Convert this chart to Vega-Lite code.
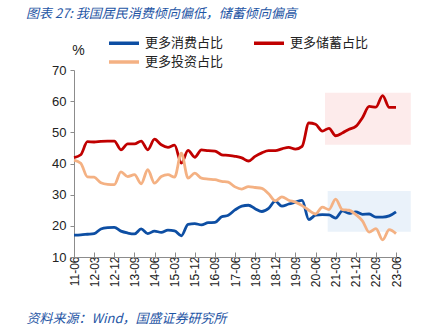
{
  "$schema": "https://vega.github.io/schema/vega-lite/v6.json",
  "width": 322,
  "height": 187,
  "autosize": {"type": "none"},
  "padding": {"left": 74, "top": 70, "right": 52, "bottom": 74},
  "background": "white",
  "title": {
    "text": "图表 27: 我国居民消费倾向偏低，储蓄倾向偏高",
    "anchor": "start",
    "frame": "group",
    "dx": -48,
    "offset": 13,
    "font": "Noto Sans CJK SC",
    "fontSize": 13,
    "fontStyle": "italic",
    "fontWeight": "normal",
    "color": "#1F56A5"
  },
  "config": {
    "view": {"stroke": null},
    "font": "Liberation Sans",
    "axis": {"grid": false, "domainColor": "#8C8C8C", "tickColor": "#8C8C8C", "labelColor": "#222222", "labelFont": "Liberation Sans"},
    "axisY": {"labelOverlap": false, "tickCount": 7}
  },
  "datasets": {
    "survey": [
      {"date": "2011-06", "更多消费占比": 17.0, "更多储蓄占比": 41.9, "更多投资占比": 41.1},
      {"date": "2011-09", "更多消费占比": 17.1, "更多储蓄占比": 42.8, "更多投资占比": 40.1},
      {"date": "2011-12", "更多消费占比": 17.3, "更多储蓄占比": 47.0, "更多投资占比": 35.7},
      {"date": "2012-03", "更多消费占比": 17.5, "更多储蓄占比": 46.9, "更多投资占比": 35.6},
      {"date": "2012-06", "更多消费占比": 19.0, "更多储蓄占比": 47.1, "更多投资占比": 33.8},
      {"date": "2012-09", "更多消费占比": 19.4, "更多储蓄占比": 47.2, "更多投资占比": 33.3},
      {"date": "2012-12", "更多消费占比": 19.5, "更多储蓄占比": 47.2, "更多投资占比": 33.2},
      {"date": "2013-03", "更多消费占比": 18.3, "更多储蓄占比": 44.4, "更多投资占比": 37.3},
      {"date": "2013-06", "更多消费占比": 17.7, "更多储蓄占比": 46.3, "更多投资占比": 35.8},
      {"date": "2013-09", "更多消费占比": 17.4, "更多储蓄占比": 46.3, "更多投资占比": 36.4},
      {"date": "2013-12", "更多消费占比": 19.0, "更多储蓄占比": 47.2, "更多投资占比": 33.5},
      {"date": "2014-03", "更多消费占比": 17.5, "更多储蓄占比": 44.4, "更多投资占比": 38.0},
      {"date": "2014-06", "更多消费占比": 18.3, "更多储蓄占比": 47.8, "更多投资占比": 33.7},
      {"date": "2014-09", "更多消费占比": 17.9, "更多储蓄占比": 46.0, "更多投资占比": 35.8},
      {"date": "2014-12", "更多消费占比": 18.6, "更多储蓄占比": 45.2, "更多投资占比": 36.4},
      {"date": "2015-03", "更多消费占比": 18.4, "更多储蓄占比": 45.9, "更多投资占比": 35.6},
      {"date": "2015-06", "更多消费占比": 16.8, "更多储蓄占比": 40.1, "更多投资占比": 43.3},
      {"date": "2015-09", "更多消费占比": 20.5, "更多储蓄占比": 44.2, "更多投资占比": 35.3},
      {"date": "2015-12", "更多消费占比": 20.7, "更多储蓄占比": 42.0, "更多投资占比": 36.9},
      {"date": "2016-03", "更多消费占比": 20.3, "更多储蓄占比": 44.4, "更多投资占比": 35.3},
      {"date": "2016-06", "更多消费占比": 21.0, "更多储蓄占比": 44.1, "更多投资占比": 35.0},
      {"date": "2016-09", "更多消费占比": 21.1, "更多储蓄占比": 44.0, "更多投资占比": 34.8},
      {"date": "2016-12", "更多消费占比": 22.9, "更多储蓄占比": 42.8, "更多投资占比": 34.3},
      {"date": "2017-03", "更多消费占比": 23.4, "更多储蓄占比": 42.6, "更多投资占比": 34.0},
      {"date": "2017-06", "更多消费占比": 25.1, "更多储蓄占比": 42.3, "更多投资占比": 32.5},
      {"date": "2017-09", "更多消费占比": 26.3, "更多储蓄占比": 41.8, "更多投资占比": 31.8},
      {"date": "2017-12", "更多消费占比": 26.6, "更多储蓄占比": 40.8, "更多投资占比": 32.6},
      {"date": "2018-03", "更多消费占比": 25.5, "更多储蓄占比": 42.3, "更多投资占比": 32.3},
      {"date": "2018-06", "更多消费占比": 24.6, "更多储蓄占比": 43.4, "更多投资占比": 32.0},
      {"date": "2018-09", "更多消费占比": 25.6, "更多储蓄占比": 44.1, "更多投资占比": 30.3},
      {"date": "2018-12", "更多消费占比": 27.9, "更多储蓄占比": 44.1, "更多投资占比": 28.0},
      {"date": "2019-03", "更多消费占比": 26.3, "更多储蓄占比": 44.7, "更多投资占比": 29.3},
      {"date": "2019-06", "更多消费占比": 27.0, "更多储蓄占比": 45.2, "更多投资占比": 28.2},
      {"date": "2019-09", "更多消费占比": 27.6, "更多储蓄占比": 44.6, "更多投资占比": 27.6},
      {"date": "2019-12", "更多消费占比": 28.2, "更多储蓄占比": 45.5, "更多投资占比": 26.5},
      {"date": "2020-03", "更多消费占比": 22.0, "更多储蓄占比": 53.0, "更多投资占比": 25.0},
      {"date": "2020-06", "更多消费占比": 23.4, "更多储蓄占比": 52.6, "更多投资占比": 23.8},
      {"date": "2020-09", "更多消费占比": 23.6, "更多储蓄占比": 50.4, "更多投资占比": 26.0},
      {"date": "2020-12", "更多消费占比": 23.5, "更多储蓄占比": 51.3, "更多投资占比": 25.2},
      {"date": "2021-03", "更多消费占比": 22.5, "更多储蓄占比": 48.9, "更多投资占比": 28.6},
      {"date": "2021-06", "更多消费占比": 24.8, "更多储蓄占比": 49.8, "更多投资占比": 25.2},
      {"date": "2021-09", "更多消费占比": 24.0, "更多储蓄占比": 51.0, "更多投资占比": 25.0},
      {"date": "2021-12", "更多消费占比": 24.5, "更多储蓄占比": 51.9, "更多投资占比": 23.6},
      {"date": "2022-03", "更多消费占比": 23.7, "更多储蓄占比": 54.7, "更多投资占比": 21.6},
      {"date": "2022-06", "更多消费占比": 23.8, "更多储蓄占比": 58.3, "更多投资占比": 18.0},
      {"date": "2022-09", "更多消费占比": 22.8, "更多储蓄占比": 58.1, "更多投资占比": 19.1},
      {"date": "2022-12", "更多消费占比": 22.8, "更多储蓄占比": 61.8, "更多投资占比": 15.5},
      {"date": "2023-03", "更多消费占比": 23.2, "更多储蓄占比": 58.0, "更多投资占比": 18.8},
      {"date": "2023-06", "更多消费占比": 24.5, "更多储蓄占比": 58.0, "更多投资占比": 17.5}
    ],
    "zones": [
      {"zone": "储蓄", "start": "2020-10-07", "end": "2023-12-19", "low": 46.0, "high": 62.7},
      {"zone": "消费", "start": "2020-11-13", "end": "2023-12-19", "low": 18.1, "high": 31.2}
    ]
  },
  "encoding": {
    "x": {
      "field": "date",
      "type": "temporal",
      "scale": {"type": "utc", "nice": false, "domain": [{"year": 2011, "month": 6, "date": 1, "utc": true}, {"year": 2023, "month": 6, "date": 1, "utc": true}]},
      "axis": {
        "title": "资料来源：Wind，国盛证券研究所",
        "titleFont": "Noto Sans CJK SC",
        "titleFontSize": 13,
        "titleFontStyle": "italic",
        "titleFontWeight": "normal",
        "titleColor": "#1F56A5",
        "titleAnchor": "start",
        "titleAlign": "left",
        "titleBaseline": "middle",
        "titleX": -48,
        "titleY": 61,
        "format": "%y-%m",
        "values": [
          {"year": 2011, "month": 6, "date": 1, "utc": true},
          {"year": 2012, "month": 3, "date": 1, "utc": true},
          {"year": 2012, "month": 12, "date": 1, "utc": true},
          {"year": 2013, "month": 9, "date": 1, "utc": true},
          {"year": 2014, "month": 6, "date": 1, "utc": true},
          {"year": 2015, "month": 3, "date": 1, "utc": true},
          {"year": 2015, "month": 12, "date": 1, "utc": true},
          {"year": 2016, "month": 9, "date": 1, "utc": true},
          {"year": 2017, "month": 6, "date": 1, "utc": true},
          {"year": 2018, "month": 3, "date": 1, "utc": true},
          {"year": 2018, "month": 12, "date": 1, "utc": true},
          {"year": 2019, "month": 9, "date": 1, "utc": true},
          {"year": 2020, "month": 6, "date": 1, "utc": true},
          {"year": 2021, "month": 3, "date": 1, "utc": true},
          {"year": 2021, "month": 12, "date": 1, "utc": true},
          {"year": 2022, "month": 9, "date": 1, "utc": true},
          {"year": 2023, "month": 6, "date": 1, "utc": true}
        ],
        "labelAngle": 270,
        "labelAlign": "right",
        "labelBaseline": "middle",
        "labelFontSize": 12,
        "labelPadding": 4,
        "tickSize": -5,
        "labelOverlap": false,
        "labelFlush": false
      }
    },
    "y": {
      "type": "quantitative",
      "scale": {"domain": [10, 70], "nice": false, "zero": false},
      "axis": {
        "values": [10, 20, 30, 40, 50, 60, 70],
        "labelOverlap": false,
        "labelFlush": false,
        "title": "%",
        "titleAngle": 0,
        "titleFont": "Liberation Sans",
        "titleFontSize": 14,
        "titleFontWeight": "normal",
        "titleColor": "#222222",
        "titleAlign": "center",
        "titleBaseline": "middle",
        "titleX": 4,
        "titleY": -20,
        "labelFontSize": 13,
        "tickSize": 4,
        "labelPadding": 4
      }
    }
  },
  "layer": [
    {
      "data": {"name": "zones"},
      "transform": [{"filter": "datum.zone === '储蓄'"}],
      "mark": {"type": "rect", "color": "#FDEBEB"},
      "encoding": {
        "x": {"field": "start", "type": "temporal"},
        "x2": {"field": "end"},
        "y": {"field": "low", "type": "quantitative"},
        "y2": {"field": "high"}
      }
    },
    {
      "data": {"name": "zones"},
      "transform": [{"filter": "datum.zone === '消费'"}],
      "mark": {"type": "rect", "color": "#EAF2FA"},
      "encoding": {
        "x": {"field": "start", "type": "temporal"},
        "x2": {"field": "end"},
        "y": {"field": "low", "type": "quantitative"},
        "y2": {"field": "high"}
      }
    },
    {
      "data": {"name": "survey"},
      "transform": [{"fold": ["更多消费占比", "更多储蓄占比", "更多投资占比"], "as": ["series", "share"]}],
      "mark": {"type": "line", "strokeWidth": 2.8, "interpolate": "monotone"},
      "encoding": {
        "y": {"field": "share", "type": "quantitative"},
        "color": {
          "field": "series",
          "type": "nominal",
          "sort": ["更多消费占比", "更多储蓄占比", "更多投资占比"],
          "scale": {"domain": ["更多消费占比", "更多储蓄占比", "更多投资占比"], "range": ["#0D4EA3", "#C00000", "#F4B183"]},
          "legend": {
            "title": null,
            "orient": "none",
            "legendX": 40.5,
            "legendY": -36.5,
            "direction": "horizontal",
            "columns": 2,
            "columnPadding": 23,
            "rowPadding": 2,
            "symbolType": "M-2,0H2",
            "symbolStrokeWidth": 3.5,
            "symbolSize": 225,
            "labelFont": "Noto Sans CJK SC",
            "labelFontSize": 13,
            "labelColor": "#222222",
            "labelOffset": 11.5
          }
        }
      }
    },
    {
      "mark": {"type": "rule", "color": "#1F56A5", "strokeWidth": 1.8},
      "encoding": {
        "x": {"datum": {"year": 2009, "month": 4, "date": 10, "utc": true}, "type": "temporal"},
        "x2": {"datum": {"year": 2025, "month": 2, "date": 21, "utc": true}},
        "y": {"datum": 83.15, "type": "quantitative"}
      }
    },
    {
      "mark": {"type": "rule", "color": "#1F56A5", "strokeWidth": 1.8},
      "encoding": {
        "x": {"datum": {"year": 2009, "month": 4, "date": 10, "utc": true}, "type": "temporal"},
        "x2": {"datum": {"year": 2025, "month": 2, "date": 21, "utc": true}},
        "y": {"datum": -6.27, "type": "quantitative"}
      }
    }
  ]
}
